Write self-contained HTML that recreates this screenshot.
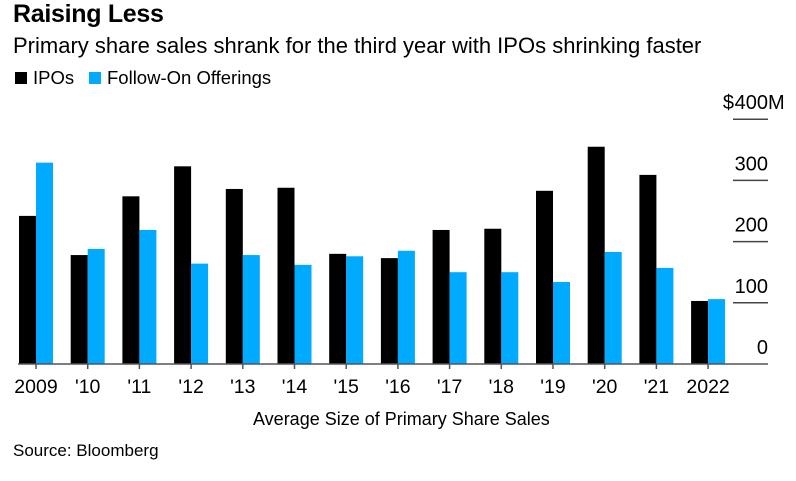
<!DOCTYPE html>
<html><head><meta charset="utf-8"><style>
body{margin:0;background:#fff;font-family:"Liberation Sans",sans-serif;}
#wrap{position:relative;width:796px;height:481px;overflow:hidden;}
.t{position:absolute;white-space:nowrap;color:#000;}
</style></head><body>
<div id="wrap">
<div class="t" style="left:13px;top:0px;font-size:25px;font-weight:bold;letter-spacing:-0.3px">Raising Less</div>
<div class="t" style="left:13px;top:33px;font-size:22px">Primary share sales shrank for the third year with IPOs shrinking faster</div>
<div style="position:absolute;left:15px;top:72px;width:12px;height:12px;background:#000"></div>
<div class="t" style="left:33px;top:67px;font-size:18.5px">IPOs</div>
<div style="position:absolute;left:89px;top:72px;width:12px;height:12px;background:#00aaff"></div>
<div class="t" style="left:107px;top:67px;font-size:18.5px">Follow-On Offerings</div>
<svg id="chart" width="796" height="481" style="position:absolute;left:0;top:0"></svg>
<div class="t" style="left:253px;top:409px;font-size:18px">Average Size of Primary Share Sales</div>
<div class="t" style="left:13px;top:441px;font-size:17px">Source: Bloomberg</div>
</div>
<script>
const categories=["2009","'10","'11","'12","'13","'14","'15","'16","'17","'18","'19","'20","'21","2022"];
const ipos=[242,178,274,323,286,288,180,173,219,221,283,355,309,103];
const followOn=[329,188,219,164,178,162,176,185,150,150,134,183,157,106];
const yTicks=[0,100,200,300,400];
const yTickLabels=["0","100","200","300","400"];
const NS="http://www.w3.org/2000/svg";
const svg=document.getElementById('chart');
const y0=364,pxPer=0.612;
function yScale(v){return y0-v*pxPer;}
function xCenter(i){return 36+i*51.7;}
function mk(t,a){const e=document.createElementNS(NS,t);for(const k in a)e.setAttribute(k,a[k]);svg.appendChild(e);return e;}
yTicks.forEach((v,i)=>{
  if(v>0){const g=mk('line',{x1:733,x2:768,y1:yScale(v),y2:yScale(v),stroke:'#444','stroke-width':1.5});
  
  }
  const t=mk('text',{x:768,y:yScale(v)-10,'text-anchor':'end','font-size':20,'font-family':'Liberation Sans, sans-serif',fill:'#000'});
  t.textContent=yTickLabels[i];
  
  
  if(i===yTicks.length-1){
    const d=mk('text',{x:768-34,y:yScale(v)-10,'text-anchor':'end','font-size':20,'font-family':'Liberation Sans, sans-serif',fill:'#000'});
    d.textContent='$';
    
    
    const m=mk('text',{x:768,y:yScale(v)-10,'text-anchor':'start','font-size':20,'font-family':'Liberation Sans, sans-serif',fill:'#000'});
    m.textContent='M';
    
    
  }
});
categories.forEach((c,i)=>{
  const cx=xCenter(i);
  const b1=mk('rect',{x:cx-17,y:yScale(ipos[i]),width:17,height:ipos[i]*pxPer,fill:'#000'});
  
  
  const b2=mk('rect',{x:cx,y:yScale(followOn[i]),width:17,height:followOn[i]*pxPer,fill:'#00aaff'});
  
  
  const tk=mk('line',{x1:cx,x2:cx,y1:y0,y2:y0+5,stroke:'#555','stroke-width':1.5});
  
  
  const t=mk('text',{x:cx,y:393,'text-anchor':'middle','font-size':19.5,'font-family':'Liberation Sans, sans-serif',fill:'#000'});
  t.textContent=c;
  
  
});
const ax=mk('line',{x1:18,x2:768,y1:y0,y2:y0,stroke:'#555','stroke-width':1.5});


</script>
</body></html>
